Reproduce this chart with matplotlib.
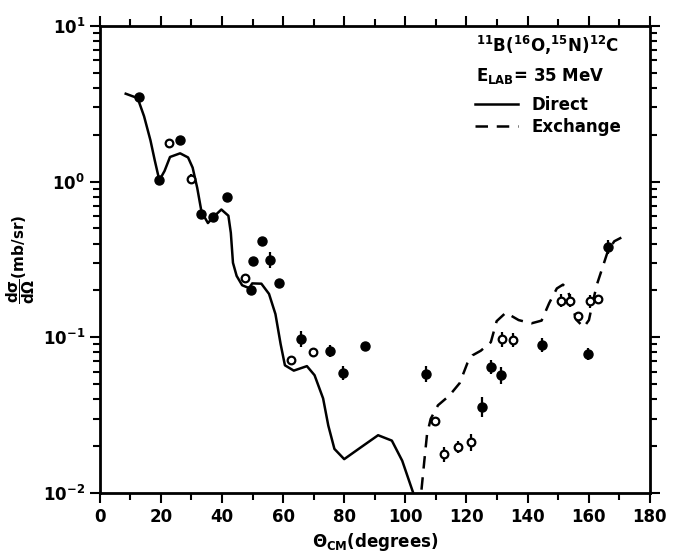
import numpy as np
import matplotlib
matplotlib.use('Agg')
import matplotlib.pyplot as plt
from matplotlib.ticker import MultipleLocator, LogLocator, NullFormatter
from matplotlib.lines import Line2D

####################################
# data (theta_CM in degrees, dsigma/dOmega in mb/sr)
####################################
direct_x = [8.5, 12.4, 14.5, 16.6, 18.0, 19.5, 21.2, 23.0, 26.3, 28.9, 30.4, 31.9,
            33.3, 35.4, 37.1, 39.8, 42.1, 42.9, 43.6, 44.8, 46.6, 48.9, 49.9, 52.9,
            55.4, 57.5, 59.2, 60.6, 63.5, 67.8, 70.3, 73.1, 74.8, 76.8, 80.0, 85.7,
            91.1, 95.6, 99.0, 102.6]
direct_y = [3.67, 3.44, 2.63, 1.84, 1.37, 1.02, 1.17, 1.44, 1.52, 1.43, 1.23, 0.912,
            0.640, 0.542, 0.590, 0.662, 0.604, 0.469, 0.301, 0.248, 0.216, 0.207, 0.222, 0.221,
            0.190, 0.141, 0.0904, 0.0661, 0.0611, 0.0653, 0.0571, 0.0405, 0.0271, 0.0192, 0.0165, 0.0198,
            0.0235, 0.0217, 0.0161, 0.0100]

exch_x = [105.3, 106.2, 107.1, 108.3, 110.7, 114.4, 117.8, 120.3, 122.0, 124.7, 128.0, 129.9,
          132.9, 137.1, 141.3, 144.6, 147.1, 149.6, 151.6, 153.2, 154.6, 156.1, 158.4, 160.1,
          161.2, 162.7, 164.5, 166.3, 168.4, 170.7]
exch_y = [0.0105, 0.0159, 0.0237, 0.0299, 0.0366, 0.0422, 0.0508, 0.0681, 0.0766, 0.0820, 0.0931, 0.127,
          0.144, 0.129, 0.123, 0.128, 0.166, 0.206, 0.218, 0.202, 0.157, 0.129, 0.116, 0.129,
          0.163, 0.218, 0.279, 0.358, 0.414, 0.437]

# filled symbols
full_x = [12.7, 19.5, 26.4, 33.2, 37.1, 41.6, 53.0, 50.1, 55.7, 49.5, 58.8, 65.8,
          75.2, 79.5, 86.7, 106.7, 125.1, 128.1, 131.3, 144.7, 159.7, 166.3]
full_y = [3.49, 1.02, 1.84, 0.62, 0.59, 0.80, 0.417, 0.307, 0.314, 0.200, 0.222, 0.0977,
          0.082, 0.059, 0.088, 0.058, 0.0358, 0.064, 0.057, 0.0896, 0.078, 0.379]
full_err = [0.0, 0.0, 0.0, 0.0, 0.0, 0.0, 0.0, 0.0, 0.05, 0.0, 0.0, 0.05,
            0.04, 0.045, 0.0, 0.05, 0.065, 0.045, 0.055, 0.045, 0.04, 0.045]  # dex

# open symbols
open_x = [22.8, 30.0, 47.4, 62.6, 69.9, 109.6, 112.8, 117.2, 121.5, 131.7, 135.3,
          151.1, 154.0, 156.5, 160.6, 163.2]
open_y = [1.77, 1.04, 0.240, 0.072, 0.081, 0.029, 0.0177, 0.0198, 0.0212, 0.097, 0.096,
          0.172, 0.172, 0.137, 0.170, 0.177]
open_err = [0.0, 0.035, 0.0, 0.025, 0.025, 0.025, 0.05, 0.04, 0.055, 0.05, 0.045,
            0.04, 0.04, 0.025, 0.04, 0.025]  # dex

####################################

def yerr_from_dex(y, e):
    y = np.array(y)
    e = np.array(e)
    return [y - y * 10**(-e), y * 10**e - y]

plt.rcParams['font.family'] = 'DejaVu Sans'
plt.rcParams['font.weight'] = 'bold'
plt.rcParams['mathtext.default'] = 'bf'

fig = plt.figure(figsize=(6.74, 5.58), dpi=100)
ax = fig.add_axes([0.148, 0.1165, 0.816, 0.837])

ax.plot(direct_x, direct_y, '-', color='black', lw=1.8)
ax.plot(exch_x, exch_y, '--', color='black', lw=1.8, dashes=(5, 3.5))

ax.errorbar(full_x, full_y, yerr=yerr_from_dex(full_y, full_err), fmt='o', color='black',
            ms=6.5, elinewidth=1.6, capsize=0)
ax.errorbar(open_x, open_y, yerr=yerr_from_dex(open_y, open_err), fmt='o', color='black',
            mfc='white', mec='black', mew=1.6, ms=5.5, elinewidth=1.6, capsize=0)

ax.set_yscale('log')
ax.set_xlim(0, 180)
ax.set_ylim(1e-2, 1e1)

ax.xaxis.set_major_locator(MultipleLocator(20))
ax.xaxis.set_minor_locator(MultipleLocator(10))
ax.yaxis.set_major_locator(LogLocator(base=10, numticks=10))
ax.yaxis.set_minor_locator(LogLocator(base=10, subs=np.arange(2, 10), numticks=10))
ax.yaxis.set_minor_formatter(NullFormatter())

ax.tick_params(which='both', direction='out', top=True, right=True, width=1.5,
               labelsize=12)
ax.tick_params(which='major', length=7)
ax.tick_params(which='minor', length=5)
for s in ax.spines.values():
    s.set_linewidth(2)

ax.set_xlabel(r'$\Theta_{CM}$(degrees)', fontsize=12, fontweight='bold')
ax.set_ylabel(r'$\dfrac{d\sigma}{d\Omega}$(mb/sr)', fontsize=11, fontweight='bold')

ax.text(0.685, 0.958, r'$^{11}$B($^{16}$O,$^{15}$N)$^{12}$C', transform=ax.transAxes,
        fontsize=12, fontweight='bold', va='center', ha='left')
ax.text(0.685, 0.893, r'E$_{LAB}$= 35 MeV', transform=ax.transAxes,
        fontsize=12, fontweight='bold', va='center', ha='left')

handles = [Line2D([], [], color='black', lw=1.8),
           Line2D([], [], color='black', lw=1.8, ls='--', dashes=(5, 3.5))]
ax.legend(handles, ['Direct', 'Exchange'], loc='upper left', bbox_to_anchor=(0.67, 0.865),
          frameon=False, fontsize=12, handlelength=2.6, handletextpad=0.8,
          labelspacing=0.25, borderaxespad=0)

fig.savefig('out.png', dpi=100)
